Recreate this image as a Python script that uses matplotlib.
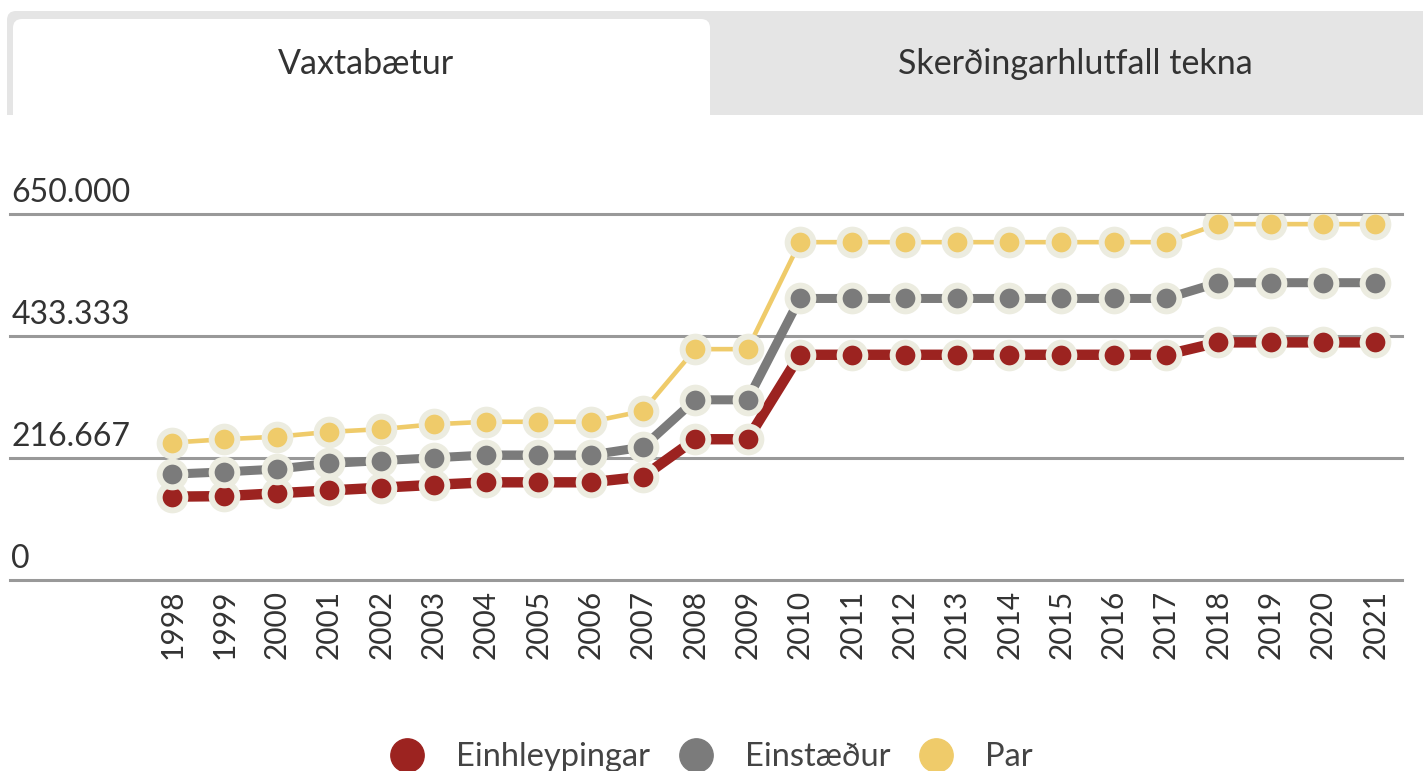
import numpy as np
import matplotlib.pyplot as plt
from matplotlib.patches import FancyBboxPatch, Rectangle
from matplotlib.lines import Line2D
from matplotlib.transforms import IdentityTransform

# Vaxtabætur (hámark) eftir fjölskyldugerð, kr.
years = list(range(1998, 2022))
einhleypingar = [148000, 149000, 154000, 159000, 164000, 169000, 173500, 173500, 173500, 183500,
                 250000, 250000, 400000, 400000, 400000, 400000, 400000, 400000, 400000, 400000,
                 422000, 422000, 422000, 422000]
einstaedur = [188000, 192000, 197000, 207000, 212000, 217000, 222000, 222000, 222000, 236000,
              320000, 320000, 500000, 500000, 500000, 500000, 500000, 500000, 500000, 500000,
              528000, 528000, 528000, 528000]
par = [244000, 250000, 254500, 263000, 268000, 276500, 281000, 281000, 281000, 300000,
       410000, 410000, 600000, 600000, 600000, 600000, 600000, 600000, 600000, 600000,
       632000, 632000, 632000, 632000]
series_names = ['Einhleypingar', 'Einstæður', 'Par']
series_colors = ['#9C2320', '#7B7B7B', '#EFCB6A']
yticks = [0, 216667, 433333, 650000]
ytick_labels = ['0', '216.667', '433.333', '650.000']
tabs = ['Vaxtabætur', 'Skerðingarhlutfall tekna']

W, H = 1423, 771
plt.rcParams['font.family'] = ['Lato', 'DejaVu Sans']
fig = plt.figure(figsize=(W / 100, H / 100), dpi=100)
fig.patch.set_facecolor('white')

def fy(p):
    # pixel from top -> display y
    return H - p

# tab bar
fig.add_artist(FancyBboxPatch((7, fy(140)), W + 20, 129, boxstyle='round,pad=0,rounding_size=9',
                              transform=IdentityTransform(), fc='#E5E5E5', ec='none'))
fig.add_artist(FancyBboxPatch((13, fy(140)), 697, 121, boxstyle='round,pad=0,rounding_size=9',
                              transform=IdentityTransform(), fc='white', ec='none'))
fig.add_artist(Rectangle((0, fy(170)), W, 55, transform=IdentityTransform(), fc='white', ec='none'))
fig.text(366 / W, 1 - 64 / H, tabs[0], ha='center', va='center', fontsize=24.5, color='#333333')
fig.text(1075 / W, 1 - 64 / H, tabs[1], ha='center', va='center', fontsize=24.5, color='#333333')

ax = fig.add_axes([10 / W, 1 - 580 / H, 1392 / W, 366 / H])
ax.set_xlim(1994.9, 2021.51)
ax.set_ylim(0, 650000)
for s in ax.spines.values():
    s.set_visible(False)
ax.set_yticks([])
for v, lab in zip(yticks, ytick_labels):
    ax.axhline(v, color='#999999', lw=2.2, clip_on=False, zorder=1)
    ax.annotate(lab, xy=(0, v), xycoords=('axes fraction', 'data'), xytext=(1, 4),
                textcoords='offset points', ha='left', va='bottom', fontsize=23, color='#333333')

widths = [7.5, 6.5, 3.3]
for vals, col, lw in zip([einhleypingar, einstaedur, par], series_colors, widths):
    ax.plot(years, vals, color=col, lw=lw, marker='o', ms=18.5, mfc=col, mec='#ECECE0', mew=4.3,
            solid_joinstyle='round', zorder=3)

ax.set_xticks(years)
ax.set_xticklabels([str(y) for y in years], rotation=90, fontsize=21.5, color='#333333')
ax.tick_params(axis='x', length=0, pad=7)

handles = [Line2D([], [], marker='o', ls='none', ms=24, color=c) for c in series_colors]
fig.legend(handles, series_names, loc='center', bbox_to_anchor=(712 / W, 14 / H), ncol=3,
           frameon=False, fontsize=23.5, handlelength=1.0, handletextpad=1.0, columnspacing=0.9,
           labelcolor='#444444')

fig.savefig('out.png', dpi=100)
